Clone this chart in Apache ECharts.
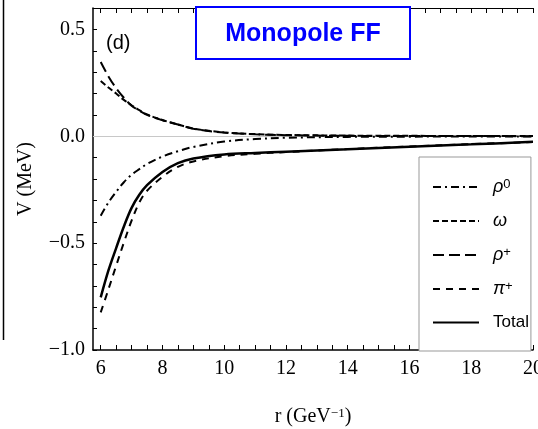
<!DOCTYPE html>
<html>
<head>
<meta charset="utf-8">
<script src="https://cdn.jsdelivr.net/npm/echarts@6/dist/echarts.min.js"></script>
<style>
  html, body { margin: 0; padding: 0; background: #fff; }
  #chart { width: 538px; height: 429px; }
</style>
</head>
<body>
<div id="chart"></div>
<script>
const rValues = [6, 6.25, 6.5, 6.75, 7, 7.25, 7.5, 8, 8.5, 9, 10, 11, 12, 14, 16, 18, 20]

// potentials in MeV
const rho0 = [-0.372, -0.31, -0.26, -0.215, -0.18, -0.154, -0.13, -0.095, -0.07, -0.05, -0.025, -0.013, -0.007, -0.003, -0.002, -0.001, -0.001]
const omega = [0.258, 0.228, 0.2, 0.17, 0.145, 0.122, 0.102, 0.076, 0.055, 0.036, 0.018, 0.01, 0.006, 0.003, 0.002, 0.001, 0.001]
const rhoPlus = [0.347, 0.28, 0.225, 0.18, 0.143, 0.12, 0.1, 0.075, 0.055, 0.035, 0.017, 0.009, 0.005, 0.002, 0.001, 0.001, 0]
const piPlus = [-0.824, -0.716, -0.606, -0.497, -0.395, -0.31, -0.255, -0.19, -0.143, -0.118, -0.093, -0.082, -0.074, -0.06, -0.048, -0.037, -0.027]
const total = [-0.754, -0.628, -0.523, -0.422, -0.335, -0.274, -0.229, -0.167, -0.126, -0.104, -0.085, -0.078, -0.072, -0.061, -0.049, -0.038, -0.026]

// ticks
const xLabels = [6, 8, 10, 12, 14, 16, 18, 20]
const xTicks = [6, 6.5, 7, 7.5, 8, 8.5, 9, 9.5, 10, 10.5, 11, 11.5, 12, 12.5, 13, 13.5, 14, 14.5, 15, 15.5, 16, 16.5, 17, 17.5, 18, 18.5, 19, 19.5, 20]
const yLabels = [-1.0, -0.5, 0.0, 0.5]

const pairs = (ys) => rValues.map((r, i) => [r, ys[i]])

const chart = echarts.init(document.getElementById('chart'))

const serifFont = 'Liberation Serif'
const sansFont = 'Liberation Sans'

const lineSeries = (name, ys, dash, width) => ({
  name: name,
  type: 'line',
  data: pairs(ys),
  symbol: 'none',
  showSymbol: false,
  smooth: 0.35,
  lineStyle: { color: '#000', width: width, type: dash },
  itemStyle: { color: '#000' },
  z: 3
})

const greek = (g, s) => '{g|' + g + '}{s|' + s + '}'

chart.setOption({
  animation: false,
  backgroundColor: '#fff',
  grid: { left: 93, right: 5, top: 8, bottom: 79, outerBoundsMode: 'none' },
  xAxis: [{
    type: 'value',
    min: 5.75,
    max: 20,
    axisLine: { onZero: false, lineStyle: { color: '#000', width: 1.5 } },
    axisTick: { inside: true, length: 5, customValues: xTicks, lineStyle: { color: '#000', width: 1 } },
    axisLabel: { customValues: xLabels, fontFamily: serifFont, fontSize: 20, color: '#000', margin: 9, hideOverlap: false },
    splitLine: { show: false },
    name: 'r (GeV{sup|−1})',
    nameLocation: 'middle',
    nameGap: 57,
    nameTextStyle: {
      fontFamily: serifFont, fontSize: 20, color: '#000',
      rich: { sup: { fontFamily: serifFont, fontSize: 13, verticalAlign: 'top', color: '#000' } }
    }
  }, {
    type: 'value',
    position: 'top',
    min: 5.75,
    max: 20,
    axisLine: { onZero: false, lineStyle: { color: '#000', width: 1 } },
    axisTick: { inside: true, length: 5, customValues: xTicks, lineStyle: { color: '#000' } },
    axisLabel: { show: false },
    splitLine: { show: false }
  }],
  yAxis: {
    type: 'value',
    min: -1.0,
    max: 0.6,
    interval: 0.1,
    axisLine: { onZero: false, lineStyle: { color: '#000', width: 1.5 } },
    axisTick: { inside: true, length: 4, lineStyle: { color: '#000' } },
    axisLabel: {
      customValues: yLabels,
      fontFamily: serifFont, fontSize: 20, color: '#000', margin: 8,
      formatter: (v) => v.toFixed(1).replace('-', '−')
    },
    splitLine: { show: false },
    name: 'V (MeV)',
    nameLocation: 'middle',
    nameGap: 57,
    nameTextStyle: { fontFamily: serifFont, fontSize: 20, color: '#000' }
  },
  legend: {
    orient: 'vertical',
    left: 419,
    top: 157,
    padding: [21, 2, 20, 13],
    itemWidth: 46,
    itemHeight: 14,
    itemGap: 16,
    borderColor: '#999',
    borderWidth: 1,
    backgroundColor: '#fff',
    itemStyle: { opacity: 0 },
    data: ['rho0', 'omega', 'rhoPlus', 'piPlus', 'Total'],
    formatter: (name) => {
      if (name === 'rho0') return greek('ρ', '0')
      if (name === 'omega') return '{g|ω}'
      if (name === 'rhoPlus') return greek('ρ', '+')
      if (name === 'piPlus') return greek('π', '+')
      return '{t|Total}'
    },
    textStyle: {
      padding: [0, 0, 0, 9],
      color: '#000',
      rich: {
        g: { fontFamily: sansFont, fontStyle: 'italic', fontSize: 18, color: '#000' },
        s: { fontFamily: sansFont, fontSize: 13, verticalAlign: 'top', color: '#000' },
        t: { fontFamily: sansFont, fontSize: 17, color: '#000' }
      }
    }
  },
  series: [
    lineSeries('rho0', rho0, [8, 4, 2, 4], 2),
    lineSeries('omega', omega, [6, 3], 2),
    lineSeries('rhoPlus', rhoPlus, [11, 5], 2),
    lineSeries('piPlus', piPlus, [7, 6], 2),
    Object.assign(lineSeries('Total', total, 'solid', 2.5), {
      markLine: {
        silent: true,
        symbol: 'none',
        label: { show: false },
        lineStyle: { color: '#c8c8c8', width: 1, type: 'solid' },
        data: [{ yAxis: 0 }],
        z: 1
      }
    })
  ],
  graphic: [
    {
      type: 'line',
      shape: { x1: 3.5, y1: 0, x2: 3.5, y2: 340 },
      style: { stroke: '#000', lineWidth: 1.5 }
    },
    {
      type: 'text',
      left: 106,
      top: 33,
      style: { text: '(d)', fontFamily: sansFont, fontSize: 20, fill: '#000' }
    },
    {
      type: 'rect',
      shape: { x: 196, y: 7, width: 214, height: 52 },
      style: { fill: '#fff', stroke: '#0000ff', lineWidth: 2 },
      z: 10
    },
    {
      type: 'text',
      x: 303,
      y: 34,
      style: {
        text: 'Monopole FF', fontFamily: sansFont, fontWeight: 'bold', fontSize: 25,
        fill: '#0000ff', align: 'center', verticalAlign: 'middle'
      },
      z: 11
    }
  ]
})
</script>
</body>
</html>
